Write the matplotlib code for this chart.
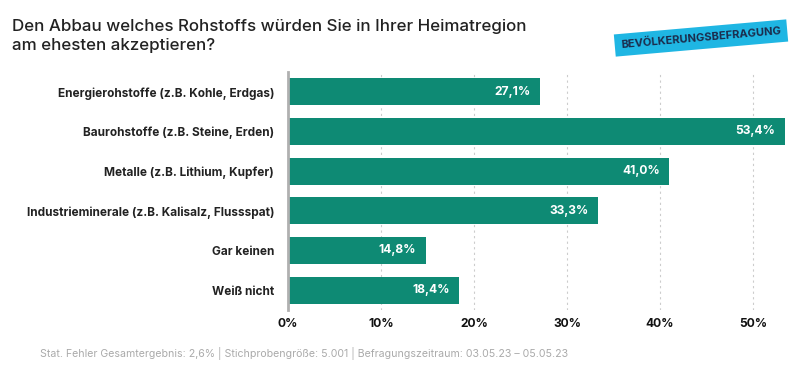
import matplotlib
matplotlib.use("Agg")
import matplotlib.pyplot as plt

categories = [
    "Energierohstoffe (z.B. Kohle, Erdgas)",
    "Baurohstoffe (z.B. Steine, Erden)",
    "Metalle (z.B. Lithium, Kupfer)",
    "Industrieminerale (z.B. Kalisalz, Flussspat)",
    "Gar keinen",
    "Weiß nicht",
]
values = [27.1, 53.4, 41.0, 33.3, 14.8, 18.4]
value_labels = ["27,1%", "53,4%", "41,0%", "33,3%", "14,8%", "18,4%"]
xticks = [0, 10, 20, 30, 40, 50]
xtick_labels = ["0%", "10%", "20%", "30%", "40%", "50%"]

title = "Den Abbau welches Rohstoffs würden Sie in Ihrer Heimatregion\nam ehesten akzeptieren?"
footer = "Stat. Fehler Gesamtergebnis: 2,6% | Stichprobengröße: 5.001 | Befragungszeitraum: 03.05.23 – 05.05.23"
badge = "BEVÖLKERUNGSBEFRAGUNG"

plt.rcParams['font.family'] = ['Inter', 'DejaVu Sans']

fig = plt.figure(figsize=(8, 3.86), dpi=100)
ax = fig.add_axes([0.36, 0.197, 0.6278, 0.6166])

bar_color = "#0e8a74"
ypos = list(range(len(categories)))
ax.barh(ypos, values, height=0.68, color=bar_color, zorder=3)
for y, v, lab in zip(ypos, values, value_labels):
    ax.text(v - 1.0, y, lab, ha="right", va="center", color="white",
            fontsize=8.7, fontweight="bold", zorder=4)

ax.set_xlim(0, 54)
ax.set_ylim(len(categories) - 0.5, -0.5)
ax.set_yticks(ypos)
ax.set_yticklabels(categories, fontsize=8.5, fontweight="bold", color="#222222")
ax.set_xticks(xticks)
ax.set_xticklabels(xtick_labels, fontsize=8.7, fontweight="bold", color="#111111")
ax.tick_params(axis="both", length=0)
ax.tick_params(axis="y", pad=10)
ax.tick_params(axis="x", pad=6)

for s in ["top", "right", "bottom"]:
    ax.spines[s].set_visible(False)
ax.spines["left"].set_color("#b0b0b0")
ax.spines["left"].set_linewidth(2)
ax.spines["left"].set_zorder(5)

ax.grid(axis="x", linestyle=(0, (2, 3)), color="#cccccc", linewidth=0.8, zorder=0)
ax.set_axisbelow(True)

fig.text(12 / 800, 1 - 19 / 386, title, ha="left", va="top", fontsize=12.2,
         fontweight="medium", color="#222222", linespacing=1.3)

fig.text(40 / 800, 1 - 354 / 386, footer, ha="left", va="center", fontsize=7.6,
         color="#aaaaaa")

fig.text(701 / 800, 1 - 38 / 386, badge, ha="center", va="center", fontsize=8,
         fontweight="bold", color="#1b2b4b", rotation=5,
         bbox=dict(boxstyle="square,pad=0.55", facecolor="#1fb6e3", edgecolor="none"))

fig.savefig("out.png", dpi=100, facecolor="white")
